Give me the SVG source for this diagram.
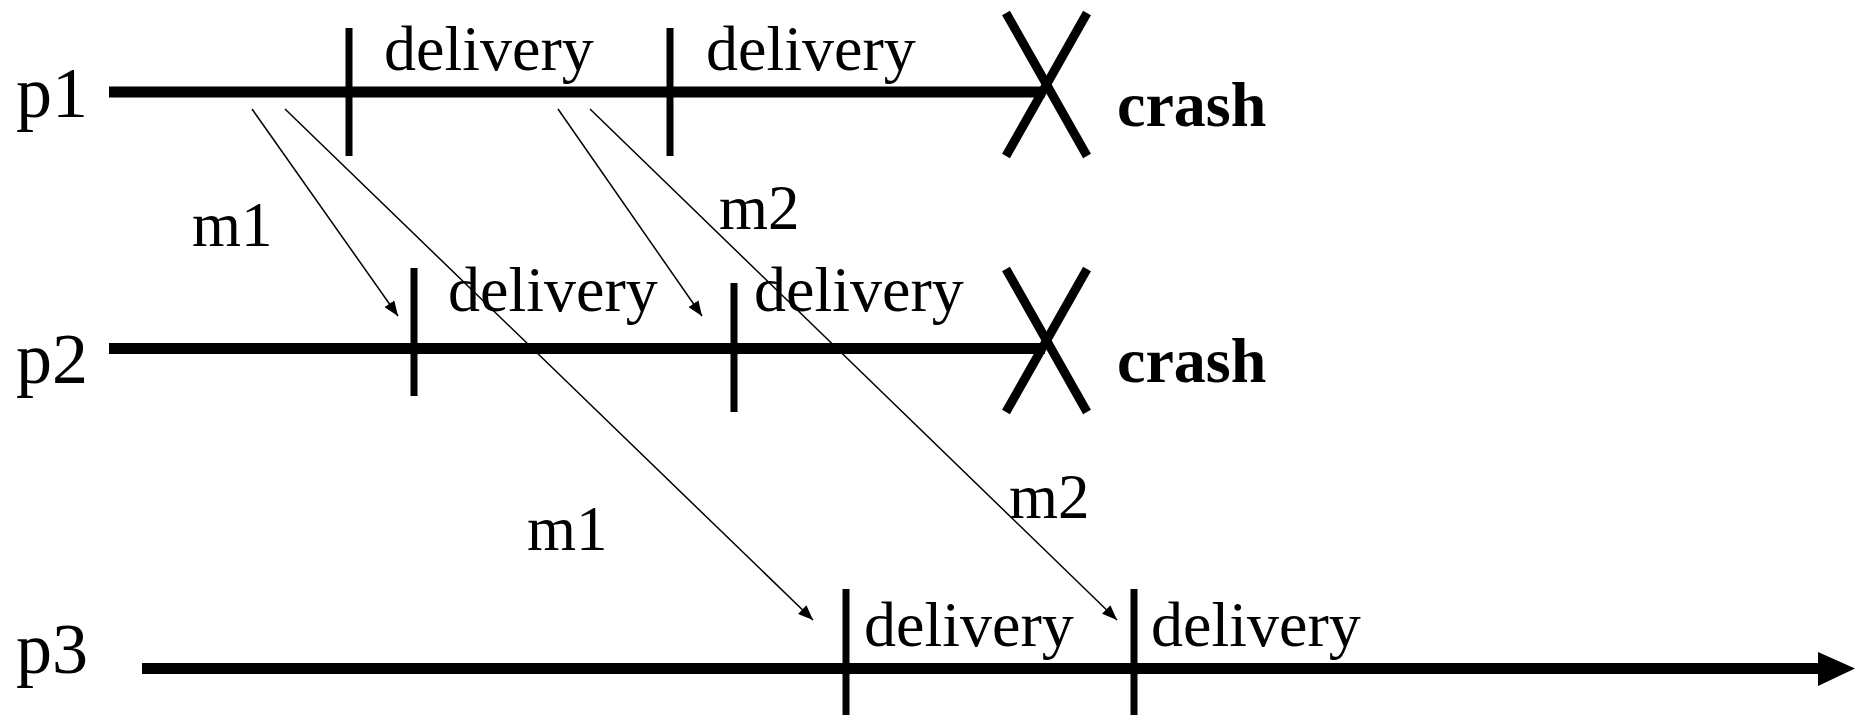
<svg xmlns="http://www.w3.org/2000/svg" width="1857" height="715" viewBox="0 0 1857 715">
<defs>
<style>
.lbl{font-family:"Liberation Serif","Times New Roman",serif;font-size:64px;fill:#000}
.mlbl{font-family:"Liberation Serif","Times New Roman",serif;font-size:63px;fill:#000}
.proc{font-family:"Liberation Serif","Times New Roman",serif;font-size:72px;fill:#000}
.crash{font-family:"Liberation Serif","Times New Roman",serif;font-size:64px;font-weight:bold;fill:#000}
.tl{stroke:#000;stroke-width:11;fill:none}
.tick{stroke:#000;stroke-width:7;fill:none}
.x{stroke:#000;stroke-width:9;fill:none}
.msg{stroke:#000;stroke-width:1.5;fill:none;marker-end:url(#ah)}
</style>
<marker id="ah" markerUnits="userSpaceOnUse" markerWidth="16" markerHeight="12" refX="15" refY="6" orient="auto">
<path d="M0,0 L15,6 L0,12 z" fill="#000"/>
</marker>
</defs>
<rect width="1857" height="715" fill="#fff"/>
<g id="p1">
<text class="proc" x="16" y="117">p1</text>
<line class="tl" x1="109" y1="92" x2="1045" y2="92"/>
<line class="tick" x1="349" y1="28" x2="349" y2="156"/>
<line class="tick" x1="670" y1="28" x2="670" y2="156"/>
<text class="lbl" x="384" y="70">delivery</text>
<text class="lbl" x="706" y="70">delivery</text>
<line class="x" x1="1006" y1="13" x2="1087" y2="156"/>
<line class="x" x1="1087" y1="13" x2="1006" y2="156"/>
<text class="crash" x="1117" y="126">crash</text>
</g>
<g id="p2">
<text class="proc" x="16" y="383">p2</text>
<line class="tl" x1="109" y1="348.5" x2="1045" y2="348.5"/>
<line class="tick" x1="414" y1="268" x2="414" y2="396"/>
<line class="tick" x1="734" y1="283" x2="734" y2="412"/>
<text class="lbl" x="448" y="311">delivery</text>
<text class="lbl" x="754" y="311">delivery</text>
<line class="x" x1="1006" y1="269" x2="1087" y2="412"/>
<line class="x" x1="1087" y1="269" x2="1006" y2="412"/>
<text class="crash" x="1117" y="382">crash</text>
</g>
<g id="p3">
<text class="proc" x="16" y="673">p3</text>
<line class="tl" x1="142" y1="668.5" x2="1820" y2="668.5"/>
<path d="M1818,652 L1855,668.5 L1818,686 z" fill="#000"/>
<line class="tick" x1="846" y1="589" x2="846" y2="715"/>
<line class="tick" x1="1134" y1="589" x2="1134" y2="715"/>
<text class="lbl" x="864" y="646">delivery</text>
<text class="lbl" x="1151" y="646">delivery</text>
</g>
<g id="connectors">
<line class="msg" x1="252" y1="109" x2="398" y2="316"/>
<line class="msg" x1="285" y1="109" x2="813" y2="620"/>
<line class="msg" x1="558" y1="109" x2="702" y2="316"/>
<line class="msg" x1="590" y1="109" x2="1117" y2="620"/>
<text class="mlbl" x="192" y="246">m1</text>
<text class="mlbl" x="719" y="229">m2</text>
<text class="mlbl" x="527" y="550">m1</text>
<text class="mlbl" x="1009" y="518">m2</text>
</g>
</svg>
